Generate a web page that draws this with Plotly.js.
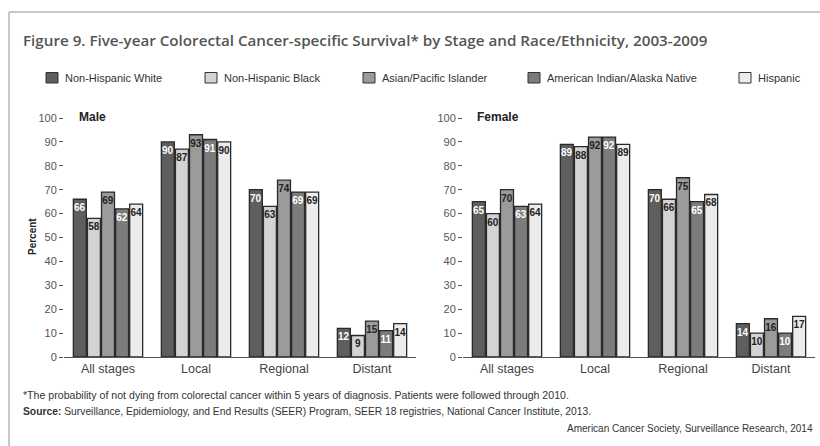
<!DOCTYPE html>
<html><head><meta charset="utf-8">
<script src="https://cdn.plot.ly/plotly-3.0.1.min.js"></script>
<style>html,body{margin:0;padding:0;background:#fff;}#chart{width:820px;height:446px;}</style>
</head><body><div id="chart"></div>
<script>
// ---- data ----
var stages = ["All stages", "Local", "Regional", "Distant"];
var groups = ["Non-Hispanic White", "Non-Hispanic Black", "Asian/Pacific Islander", "American Indian/Alaska Native", "Hispanic"];
var maleNHW  = [66, 90, 70, 12];
var maleNHB  = [58, 87, 63, 9];
var maleAPI  = [69, 93, 74, 15];
var maleAIAN = [62, 91, 69, 11];
var maleHisp = [64, 90, 69, 14];
var femaleNHW  = [65, 89, 70, 14];
var femaleNHB  = [60, 88, 66, 10];
var femaleAPI  = [70, 92, 75, 16];
var femaleAIAN = [63, 92, 65, 10];
var femaleHisp = [64, 89, 68, 17];
var yTicks = [0, 10, 20, 30, 40, 50, 60, 70, 80, 90, 100];

// ---- style ----
var FONT = "Liberation Sans, Arial, sans-serif";
var fills = ["#5e5e5e", "#d3d3d3", "#9b9b9b", "#7c7c7c", "#ececec"];
var txtCols = ["#ffffff", "#222222", "#222222", "#ffffff", "#222222"];
var maleSeries = [maleNHW, maleNHB, maleAPI, maleAIAN, maleHisp];
var femaleSeries = [femaleNHW, femaleNHB, femaleAPI, femaleAIAN, femaleHisp];

var traces = [];
function addTraces(series, xa, ya) {
  series.forEach(function (vals, i) {
    traces.push({
      type: "bar", name: groups[i], x: stages, y: vals, xaxis: xa, yaxis: ya,
      text: vals.map(String), textposition: "inside", insidetextanchor: "end",
      textangle: 0, constraintext: "none",
      textfont: {family: FONT, size: 10, color: txtCols[i], weight: 700},
      marker: {color: fills[i], line: {color: "#2a2a2a", width: 1.3}},
      showlegend: false, hoverinfo: "skip", cliponaxis: false
    });
  });
}
addTraces(maleSeries, "x", "y");
addTraces(femaleSeries, "x2", "y2");

var W = 820, H = 446;
function px(x) { return x / W; }
function py(y) { return 1 - y / H; }

var yaxBase = {
  range: [0, 100], tickvals: yTicks, ticks: "outside", ticklen: 4, tickcolor: "#555",
  showgrid: false, zeroline: false, showline: false,
  tickfont: {family: FONT, size: 11, color: "#555"}, domain: [py(357), py(118)], fixedrange: true
};
var xaxBase = {
  showline: true, linecolor: "#555", linewidth: 1, ticks: "", showgrid: false,
  tickfont: {family: FONT, size: 12.5, color: "#444"}, fixedrange: true
};

var shapes = [
  {type: "line", xref: "paper", yref: "paper", x0: px(9), x1: px(822), y0: py(12), y1: py(12), line: {color: "#b5b5b5", width: 1.5}},
  {type: "line", xref: "paper", yref: "paper", x0: px(9), x1: px(9), y0: py(12), y1: py(450), line: {color: "#b5b5b5", width: 1.5}}
];
var annotations = [
  {text: "Figure 9. Five-year Colorectal Cancer-specific Survival* by Stage and Race/Ethnicity, 2003-2009",
   xref: "paper", yref: "paper", x: px(21), y: py(40), xanchor: "left", yanchor: "middle", showarrow: false,
   font: {family: "Open Sans, sans-serif", size: 15.2, color: "#555", weight: 600}},
  {text: "<b>Male</b>", xref: "paper", yref: "paper", x: px(77), y: py(117), xanchor: "left", yanchor: "middle", showarrow: false,
   font: {family: FONT, size: 12, color: "#222"}},
  {text: "<b>Female</b>", xref: "paper", yref: "paper", x: px(475), y: py(117), xanchor: "left", yanchor: "middle", showarrow: false,
   font: {family: FONT, size: 12, color: "#222"}},
  {text: "<b>Percent</b>", xref: "paper", yref: "paper", x: px(32), y: py(237), xanchor: "center", yanchor: "middle", showarrow: false,
   textangle: -90, font: {family: FONT, size: 10, color: "#222"}},
  {text: "*The probability of not dying from colorectal cancer within 5 years of diagnosis. Patients were followed through 2010.",
   xref: "paper", yref: "paper", x: px(21), y: py(395), xanchor: "left", yanchor: "middle", showarrow: false,
   font: {family: FONT, size: 10.6, color: "#333"}},
  {text: "<b>Source:</b> Surveillance, Epidemiology, and End Results (SEER) Program, SEER 18 registries, National Cancer Institute, 2013.",
   xref: "paper", yref: "paper", x: px(21), y: py(411), xanchor: "left", yanchor: "middle", showarrow: false,
   font: {family: FONT, size: 10.3, color: "#333"}},
  {text: "American Cancer Society, Surveillance Research, 2014",
   xref: "paper", yref: "paper", x: px(815), y: py(428), xanchor: "right", yanchor: "middle", showarrow: false,
   font: {family: FONT, size: 10, color: "#333"}}
];
// manual legend
var legBoxX = [46, 205, 363, 528, 739];
groups.forEach(function (g, i) {
  shapes.push({type: "rect", xref: "paper", yref: "paper", x0: px(legBoxX[i]), x1: px(legBoxX[i] + 12),
    y0: py(72.5), y1: py(83), fillcolor: fills[i], line: {color: "#333", width: 1}});
  annotations.push({text: g, xref: "paper", yref: "paper", x: px(legBoxX[i] + 17), y: py(78),
    xanchor: "left", yanchor: "middle", showarrow: false, font: {family: FONT, size: 11, color: "#333"}});
});

var layout = {
  width: W, height: H, margin: {l: 0, r: 0, t: 0, b: 0},
  paper_bgcolor: "#fff", plot_bgcolor: "rgba(0,0,0,0)",
  barmode: "group", bargap: 0.2, bargroupgap: 0.08,
  showlegend: false,
  xaxis: Object.assign({}, xaxBase, {domain: [px(64), px(416)], anchor: "y"}),
  yaxis: Object.assign({}, yaxBase, {anchor: "x"}),
  xaxis2: Object.assign({}, xaxBase, {domain: [px(463), px(815)], anchor: "y2"}),
  yaxis2: Object.assign({}, yaxBase, {anchor: "x2"}),
  shapes: shapes, annotations: annotations,
  font: {family: FONT}
};
Plotly.newPlot("chart", traces, layout, {displayModeBar: false, staticPlot: true});
</script></body></html>
